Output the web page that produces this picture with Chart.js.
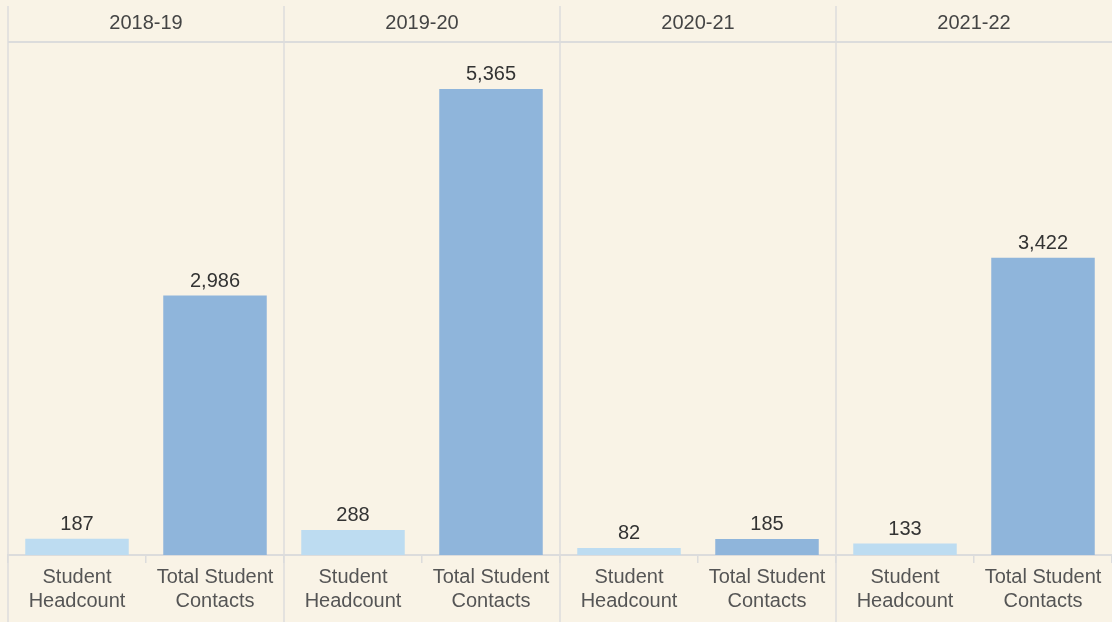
<!DOCTYPE html>
<html>
<head>
<meta charset="utf-8">
<script src="https://cdn.jsdelivr.net/npm/chart.js@4/dist/chart.umd.min.js"></script>
<style>
  body { margin: 0; background: #f9f3e6; }
  canvas { display: block; }
</style>
</head>
<body>
<canvas id="chart" width="1112" height="622"></canvas>
<script>
// Data
const years = ['2018-19', '2019-20', '2020-21', '2021-22'];
const measures = [['Student', 'Headcount'], ['Total Student', 'Contacts']];
const headcount = [187, 288, 82, 133];
const contacts = [2986, 5365, 185, 3422];
const barColors = ['#bddcf1', '#8fb5db'];

// flatten to one category per bar
const labels = [], values = [], colors = [];
years.forEach((y, i) => {
    labels.push(measures[0]); values.push(headcount[i]); colors.push(barColors[0]);
    labels.push(measures[1]); values.push(contacts[i]); colors.push(barColors[1]);
});

const FONT = '"Liberation Sans", Arial, sans-serif';

const panelPlugin = {
    id: 'panels',
    beforeDraw(chart) {
        const ctx = chart.ctx;
        ctx.save();
        ctx.fillStyle = '#f9f3e6';
        ctx.fillRect(0, 0, chart.width, chart.height);
        ctx.restore();
    },
    afterDraw(chart) {
        const ctx = chart.ctx;
        const area = chart.chartArea;
        const xs = chart.scales.x;
        const meta = chart.getDatasetMeta(0);
        ctx.save();
        ctx.strokeStyle = '#dcdcdc';
        ctx.lineWidth = 2;
        // header line
        ctx.beginPath();
        ctx.moveTo(area.left, area.top - 1);
        ctx.lineTo(area.right, area.top - 1);
        ctx.stroke();
        // panel dividers + titles
        const edges = [area.left];
        for (let i = 1; i < years.length; i++) {
            edges.push((xs.getPixelForTick(2 * i - 1) + xs.getPixelForTick(2 * i)) / 2);
        }
        edges.push(area.right);
        ctx.lineWidth = 1.5;
        for (let i = 0; i < years.length; i++) {
            ctx.beginPath();
            ctx.moveTo(edges[i], 6);
            ctx.lineTo(edges[i], chart.height);
            ctx.stroke();
        }
        ctx.fillStyle = '#444';
        ctx.font = '20px ' + FONT;
        ctx.textAlign = 'center';
        ctx.textBaseline = 'middle';
        years.forEach((y, i) => {
            ctx.fillText(y, (edges[i] + edges[i + 1]) / 2, 23);
        });
        // value labels
        ctx.fillStyle = '#333';
        ctx.textBaseline = 'bottom';
        meta.data.forEach((bar, i) => {
            ctx.fillText(values[i].toLocaleString('en-US'), bar.x, bar.y - 4);
        });
        ctx.restore();
    }
};

new Chart(document.getElementById('chart'), {
    type: 'bar',
    data: {
        labels: labels,
        datasets: [{
            data: values,
            backgroundColor: colors,
            barPercentage: 0.75,
            categoryPercentage: 1.0
        }]
    },
    options: {
        responsive: false,
        animation: false,
        layout: { padding: { left: 8, top: 43, right: 0, bottom: 7 } },
        plugins: { legend: { display: false }, tooltip: { enabled: false } },
        scales: {
            x: {
                offset: true,
                border: { display: true, color: '#dcdcdc', width: 2 },
                grid: { offset: true, drawOnChartArea: false, tickLength: 8, color: '#dcdcdc', lineWidth: 1.5 },
                ticks: {
                    color: '#555',
                    font: { family: FONT, size: 20, lineHeight: 1.2 },
                    padding: 2,
                    maxRotation: 0,
                    autoSkip: false
                }
            },
            y: {
                display: false,
                min: 0,
                max: 5894
            }
        }
    },
    plugins: [panelPlugin]
});
</script>
</body>
</html>
